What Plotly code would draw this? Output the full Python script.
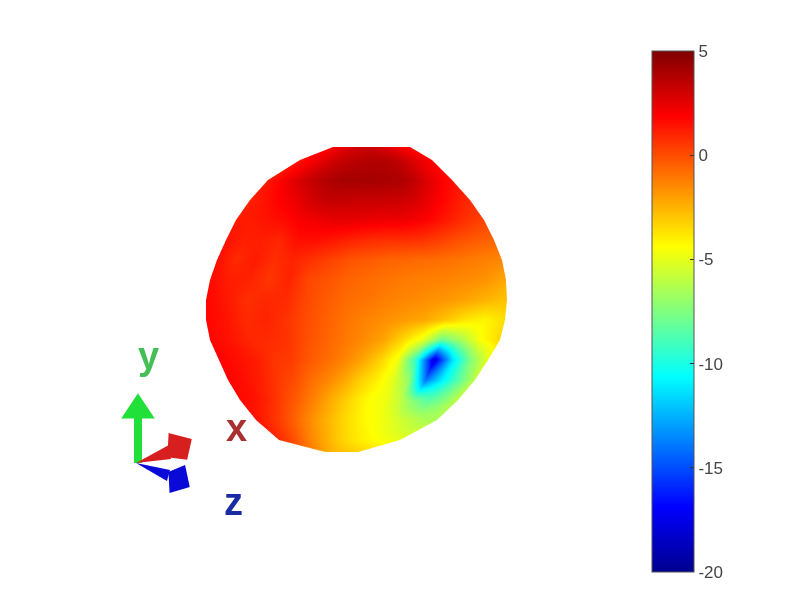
import plotly.graph_objects as go

W, H = 800, 600

# Outline of the pattern as seen on the page: one row per height, with its left and right edge
row_y = [147, 160, 180, 200, 220, 240, 260, 280, 300, 320, 340, 360, 380, 400, 420, 440, 452]
left_edge = [333, 300, 268, 250, 236, 226, 217, 210, 206, 206, 210, 219, 228, 240, 256, 279, 325]
right_edge = [410, 432, 452, 470, 484, 494, 502, 506, 507, 505, 500, 488, 475, 458, 437, 400, 358]

gain_db = [
    [2, 2.2, 2.4, 2.6, 2.8, 3, 3, 3, 3, 2.8, 2.6, 2.4, 2.2, 2, 1.8, 1.6],
    [1.5, 1.8, 2.2, 2.6, 3, 3.2, 3.4, 3.6, 3.7, 3.7, 3.6, 3.4, 3.0, 2.6, 2.2, 1.8],
    [1.2, 1.8, 2.4, 3, 3.4, 3.8, 4, 4, 4, 4, 3.9, 3.8, 3.3, 2.6, 2, 1.5],
    [1, 1.4, 1.8, 2.2, 2.8, 3.2, 3.3, 3.2, 3.2, 3.2, 3.1, 2.9, 2.4, 1.8, 1.3, 0.8],
    [1.2, 1.2, 1.4, 1.6, 2, 2.2, 2.4, 2.4, 2.3, 2.2, 2.2, 2, 1.6, 1.1, 0.6, 0.2],
    [1.4, 1.1, 1.1, 0.9, 1.5, 1.5, 1.3, 1, 0.8, 0.7, 0.7, 0.6, 0.3, -0.1, -0.4, -0.6],
    [1.5, 0.8, 1.2, 0.7, 1.0, 0.6, 0.2, -0.2, -0.4, -0.6, -0.7, -0.8, -0.9, -1.1, -1.3, -1.5],
    [1.6, 1.1, 1.0, 0.5, 1.0, 0.1, -0.2, -0.6, -0.8, -1, -1.2, -1.3, -1.4, -1.6, -1.8, -2.3],
    [1.7, 1.3, 0.7, 0.9, 0.8, 0.1, -0.4, -0.8, -1, -1.3, -1.5, -1.7, -1.9, -2.2, -2.6, -3.0],
    [1.7, 1.4, 0.8, 1.0, 0.6, 0, -0.5, -1, -1.4, -1.7, -2, -2.3, -3, -3.8, -4.2, -3.6],
    [1.7, 1.4, 0.9, 0.8, 0.6, -0.1, -0.6, -1.1, -1.6, -2.2, -3.5, -5, -8, -6.5, -4.5, -3.5],
    [1.8, 1.5, 1.2, 0.6, 0.4, -0.3, -0.8, -1.4, -2.2, -3.3, -4.8, -9.5, -18, -11.5, -7.5, -5],
    [1.8, 1.5, 1.1, 0.5, 0, -0.8, -1.4, -2.2, -3.2, -4, -5, -7, -14, -11, -8.5, -6],
    [1.6, 1.4, 0.9, 0.2, -0.5, -1.3, -2.2, -3.0, -3.8, -4.5, -4.8, -5.8, -7.5, -8.5, -7.5, -6],
    [1.4, 0.9, 0.3, -0.4, -1.2, -2.0, -2.6, -3.3, -3.8, -4.3, -4.6, -5, -5.5, -6, -6.5, -6.5],
    [0.8, 0.4, -0.2, -0.8, -1.5, -2.0, -2.5, -3.0, -3.4, -3.7, -4, -4.2, -4.4, -4.6, -4.8, -5],
    [-2.5, -2.5, -2.6, -2.7, -2.7, -2.8, -2.8, -2.9, -2.9, -3, -3, -3.1, -3.1, -3.2, -3.2, -3.2],
]

colorbar_ticks = [5, 0, -5, -10, -15, -20]
colorbar_labels = ["5", "0", "-5", "-10", "-15", "-20"]
jet = [[0, "rgb(0,0,143)"], [0.125, "rgb(0,0,255)"], [0.375, "rgb(0,255,255)"],
       [0.625, "rgb(255,255,0)"], [0.875, "rgb(255,0,0)"], [1, "rgb(128,0,0)"]]

n = len(gain_db[0])
xs = [[l + (r - l) * j / (n - 1) for j in range(n)] for l, r in zip(left_edge, right_edge)]
ys = [[y] * n for y in row_y]
zs = [[0] * n for _ in row_y]

fig = go.Figure(go.Surface(
    x=xs, y=ys, z=zs, surfacecolor=gain_db, cmin=-20, cmax=5, colorscale=jet,
    lighting=dict(ambient=1, diffuse=0, specular=0, fresnel=0, roughness=1),
    hoverinfo="skip",
    colorbar=dict(
        x=652 / W, xanchor="left", xpad=0, thickness=42, thicknessmode="pixels",
        y=(H - 572) / H, yanchor="bottom", ypad=0, len=521 / H, lenmode="fraction",
        tickmode="array", tickvals=colorbar_ticks, ticktext=colorbar_labels,
        ticks="inside", ticklen=4,
        tickcolor="#333333", outlinecolor="#555555", outlinewidth=1,
        tickfont=dict(family="Liberation Sans", size=17, color="#444444"),
    ),
))


def px(x):
    return x / W


def py(y):
    return 1 - y / H


def poly(points, color, width=0):
    path = "M " + " L ".join(f"{px(x):.4f} {py(y):.4f}" for x, y in points) + " Z"
    return dict(type="path", xref="paper", yref="paper", path=path, fillcolor=color,
                line=dict(color=color, width=width), layer="above")


GREEN, RED, BLUE = "#22e03a", "#d81f1f", "#0a0ad8"
shapes = [
    poly([(134, 463), (142, 463), (142, 416), (134, 416)], GREEN),
    poly([(138, 396), (152, 417), (124, 417)], GREEN, 3),
    poly([(136, 463), (169, 445), (171, 459)], RED),
    poly([(170, 435), (190, 440), (186, 458), (169, 456)], RED, 3),
    poly([(136, 463), (170, 470), (167, 481)], BLUE),
    poly([(170, 473), (184, 467), (188, 486), (171, 491)], BLUE, 3),
]
# MATLAB-style tick marks on the left side of the colour bar
for t in colorbar_ticks[1:-1]:
    y = 571 - (t + 20) / 25 * 520
    shapes.append(dict(type="line", xref="paper", yref="paper", x0=px(652), x1=px(656),
                       y0=py(y), y1=py(y), line=dict(color="#333333", width=1), layer="above"))

labels = [("y", 148, 356, "#45bf55"), ("x", 236, 428, "#a93030"), ("z", 233, 502, "#1a2ca5")]
annotations = [dict(text=f"<b>{t}</b>", x=px(x), y=py(y), xref="paper", yref="paper",
                    xanchor="center", yanchor="middle", showarrow=False,
                    font=dict(family="Liberation Sans", size=38, color=c))
               for t, x, y, c in labels]

hidden = dict(visible=False, showgrid=False, zeroline=False, showticklabels=False,
              showbackground=False, showspikes=False)
fig.update_layout(
    width=W, height=H, autosize=False,
    margin=dict(l=0, r=0, t=0, b=0),
    paper_bgcolor="white", plot_bgcolor="white",
    shapes=shapes, annotations=annotations,
    scene=dict(
        domain=dict(x=[0, 1], y=[0, 1]),
        xaxis=dict(range=[0, W], **hidden),
        yaxis=dict(range=[H, 0], **hidden),
        zaxis=dict(range=[-1, 1], **hidden),
        aspectmode="manual", aspectratio=dict(x=2 * W / H, y=2, z=0.01),
        camera=dict(projection=dict(type="orthographic"),
                    eye=dict(x=0, y=0, z=1), up=dict(x=0, y=1, z=0),
                    center=dict(x=0, y=0, z=0)),
    ),
)
fig.write_html("out.html", post_script="document.body.style.margin='0';",
               config=dict(displayModeBar=False))
